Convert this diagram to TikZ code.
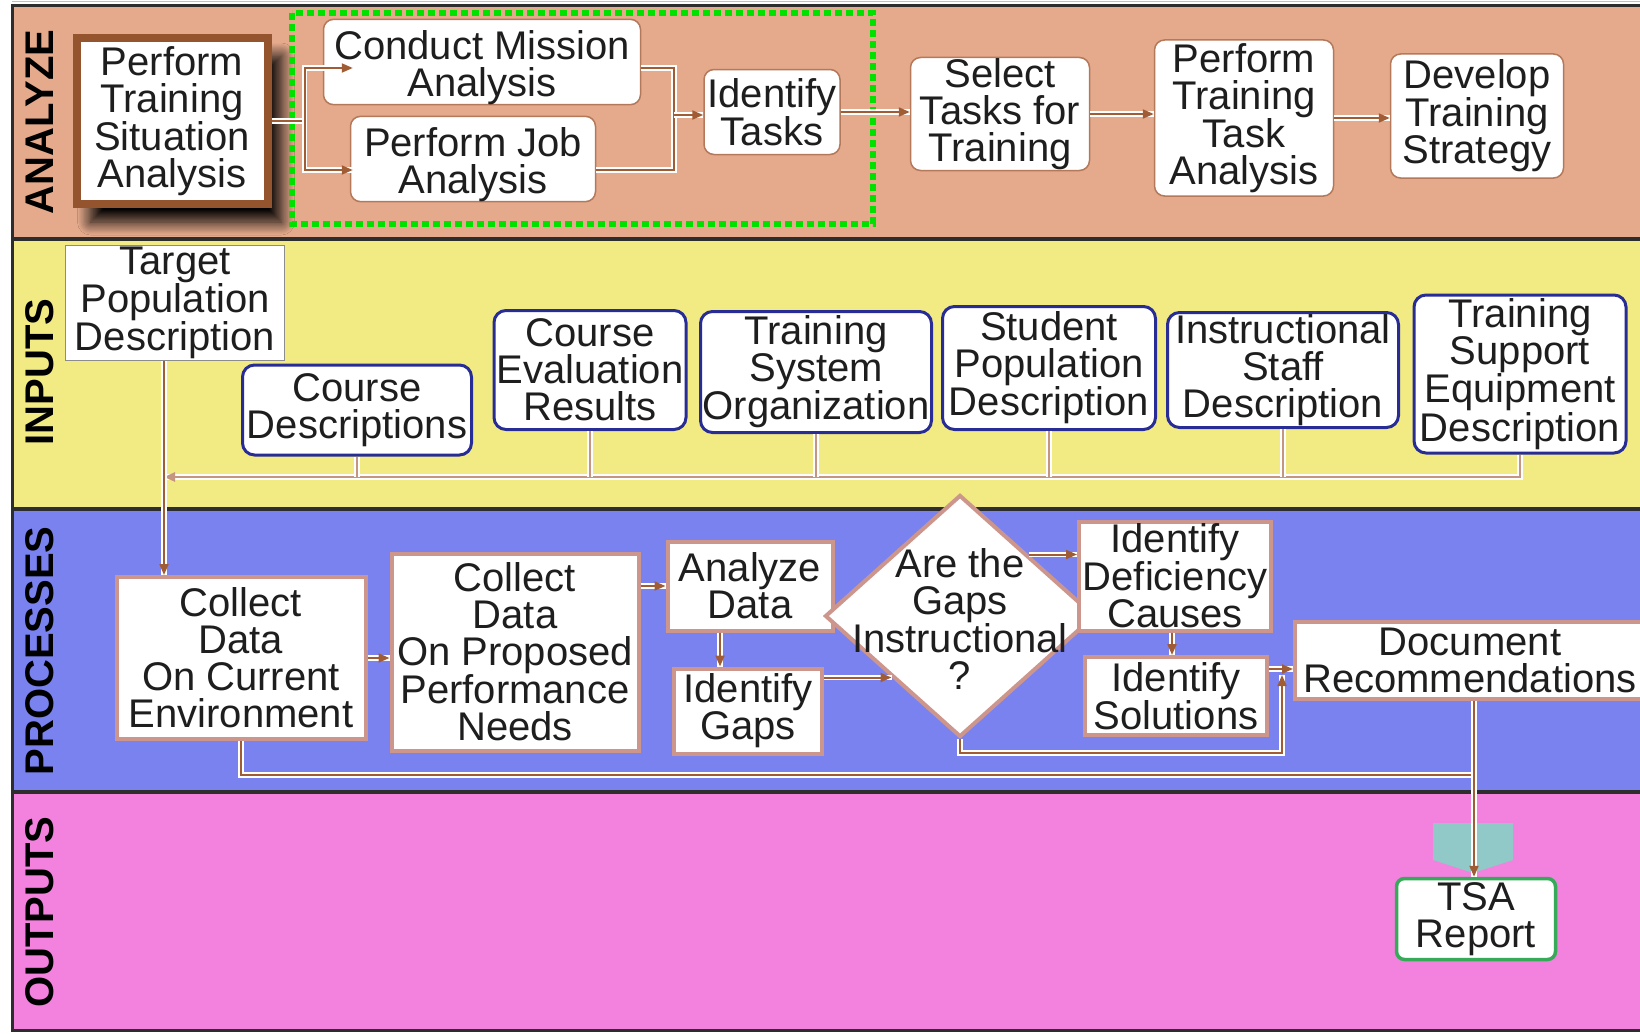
\documentclass[tikz,border=0pt]{standalone}
\usepackage{fontspec}
\setmainfont{Liberation Sans}
\usetikzlibrary{shapes.geometric,arrows.meta,shadows.blur,calc}
\definecolor{laneA}{RGB}{229,170,140}
\definecolor{laneI}{RGB}{242,234,130}
\definecolor{laneP}{RGB}{122,130,240}
\definecolor{laneO}{RGB}{242,130,222}
\definecolor{brn}{RGB}{160,92,52}
\definecolor{busC}{RGB}{196,150,130}
\definecolor{ptsaB}{RGB}{148,84,45}
\definecolor{boxA}{RGB}{180,120,90}
\definecolor{blueB}{RGB}{40,45,150}
\definecolor{procB}{RGB}{205,150,140}
\definecolor{greenB}{RGB}{55,170,90}
\definecolor{dotG}{RGB}{0,225,0}
\definecolor{tealC}{RGB}{145,200,200}
\definecolor{frameC}{RGB}{45,45,45}
\definecolor{txtC}{RGB}{30,30,30}
\newcommand{\lowstrut}{\rule{0pt}{40pt}}
\tikzset{
  every node/.style={font=\fontsize{40}{37}\selectfont, align=center, inner sep=0pt, text=txtC},
  abox/.style={draw=boxA, line width=1.5pt, fill=white, rounded corners=10pt},
  ptsabox/.style={draw=ptsaB, line width=8pt, fill=white,
     blur shadow={shadow xshift=14pt, shadow yshift=-18pt, shadow blur radius=13pt, shadow opacity=100, shadow blur steps=16}},
  tbox/.style={draw=black!45, line width=1.5pt, fill=white},
  ibox/.style={draw=blueB, line width=3pt, fill=white, rounded corners=12pt},
  pbox/.style={draw=procB, line width=4pt, fill=white},
  diabox/.style={shape=diamond, draw=procB, line width=4pt, fill=white},
  obox/.style={draw=greenB, line width=3.5pt, fill=white, rounded corners=8pt},
  conn/.style={draw=brn, line width=2pt, preaction={draw=white, line width=5.5pt, -}},
  arr/.style={conn, -{Triangle[length=11pt,width=9pt]}},
  busconn/.style={draw=busC, line width=2.5pt, preaction={draw=white, line width=6pt, -}},
  busarr/.style={busconn, -{Triangle[length=11pt,width=9pt]}},
  lanelab/.style={font=\fontsize{40}{40}\selectfont\bfseries, rotate=90, text=black},
}
\begin{document}
\begin{tikzpicture}[x=1pt,y=-1pt]
\useasboundingbox (0,0) rectangle (1640,1033);
\clip (0,0) rectangle (1640,1033);
% lanes
\fill[laneA] (12,6) rectangle (1650,239);
\fill[laneI] (12,239) rectangle (1650,509);
\fill[laneP] (12,509) rectangle (1650,792);
\fill[laneO] (12,792) rectangle (1650,1030);
\draw[black!25, line width=1pt] (12,2) -- (1650,2);
\draw[frameC, line width=3pt] (1650,6) -- (12,6) -- (12,1030) -- (1650,1030);
\draw[frameC, line width=4pt] (12,509) -- (1650,509);
\draw[frameC, line width=4pt] (12,792) -- (1650,792);
% lane labels
\node[lanelab] (lA) at (40,122) {ANALYZE};
\node[lanelab] (lI) at (40,372) {INPUTS};
\node[lanelab] (lP) at (40,651) {PROCESSES};
\node[lanelab] (lO) at (40,912) {OUTPUTS};

% ANALYZE
\node[ptsabox, minimum width=191pt, minimum height=166pt] (ptsa) at (172,121) {Perform\\Training\\Situation\\Analysis};
\fill[laneI] (14,241) rectangle (1650,260);
\draw[frameC, line width=4pt] (12,239) -- (1650,239);
\draw[dotG, line width=6pt, dash pattern=on 7pt off 4pt] (292,13) rectangle (873,224);
\node[abox, minimum width=317pt, minimum height=78pt] (cma) at (482,62) {\lowstrut Conduct Mission\\Analysis};
\node[abox, minimum width=245pt, minimum height=84pt] (pja) at (473,159) {\lowstrut Perform Job\\Analysis};
\node[abox, minimum width=136pt, minimum height=85pt] (idt) at (772,112) {Identify\\Tasks};
\node[abox, minimum width=179pt, minimum height=113pt] (stt) at (1000,114) {Select\\Tasks for\\Training};
\node[abox, minimum width=179pt, minimum height=156pt] (ptta) at (1244,118) {Perform\\Training\\Task\\Analysis};
\node[abox, minimum width=173pt, minimum height=124pt] (dts) at (1477,116) {Develop\\Training\\Strategy};

\coordinate (fk) at ([xshift=33pt]ptsa.east);
\draw[conn] (ptsa.east) -- (fk);
\draw[arr] (fk) |- ($(cma.west)+(30,6)$);
\draw[arr] (fk) |- ($(pja.west)+(3,11)$);
\coordinate (mg) at (674,115);
\draw[conn] ($(cma.east)+(0,6)$) -| (mg);
\draw[conn] ($(pja.east)+(0,11)$) -| (mg);
\draw[arr] (mg) -- (mg -| idt.west);
\draw[arr] (idt.east) -- (idt.east -| stt.west);
\draw[arr] (stt.east) -- (stt.east -| ptta.west);
\draw[arr] (ptta.east) -- (ptta.east -| dts.west);

% INPUTS
\node[tbox, minimum width=219pt, minimum height=115pt] (tpd) at (175,303) {Target\\Population\\Description};
\node[ibox, minimum width=229pt, minimum height=90pt] (cd) at (357,410) {Course\\Descriptions};
\node[ibox, minimum width=192pt, minimum height=119pt] (cer) at (590,370) {Course\\Evaluation\\Results};
\node[ibox, minimum width=231pt, minimum height=121pt] (tso) at (816,372) {Training\\System\\Organization};
\node[ibox, minimum width=213pt, minimum height=123pt] (spd) at (1049,368) {Student\\Population\\Description};
\node[ibox, minimum width=231pt, minimum height=115pt] (isd) at (1283,370) {Instructional\\Staff\\Description};
\node[ibox, minimum width=212pt, minimum height=158pt] (tse) at (1520,374) {Training\\Support\\Equipment\\Description};

\coordinate (bus) at (164,477);
\draw[busarr] (tse.south) |- (bus);
\draw[busconn] (cd.south) -- (cd.south |- bus);
\draw[busconn] (cer.south) -- (cer.south |- bus);
\draw[busconn] (tso.south) -- (tso.south |- bus);
\draw[busconn] (spd.south) -- (spd.south |- bus);
\draw[busconn] (isd.south) -- (isd.south |- bus);

% PROCESSES
\node[pbox, minimum width=249pt, minimum height=162pt] (ccur) at (241,658) {Collect\\Data\\On Current\\Environment};
\node[pbox, minimum width=247pt, minimum height=197pt] (cprop) at (515,652) {Collect\\Data\\On Proposed\\Performance\\Needs};
\node[pbox, minimum width=165pt, minimum height=89pt] (anadata) at (750,586) {Analyze\\Data};
\node[pbox, minimum width=148pt, minimum height=85pt] (idgaps) at (748,711) {Identify\\Gaps};
\node[diabox, minimum width=270pt, minimum height=242pt] (gap) at (960,616) {};
\node (gaptxt) at (960,619) {Are the\\Gaps\\Instructional\\?};
\node[pbox, minimum width=192pt, minimum height=109pt] (idc) at (1175,576) {Identify\\Deficiency\\Causes};
\node[pbox, minimum width=182pt, minimum height=78pt] (idsol) at (1176,696) {Identify\\Solutions};
\node[pbox, minimum width=350pt, minimum height=77pt] (docrec) at (1470,660) {Document\\Recommendations};

\draw[arr] ([xshift=-11pt]tpd.south) -- ([xshift=-11pt]tpd.south |- ccur.north);
\draw[arr] (ccur.east) -- (ccur.east -| cprop.west);
\draw[arr] (anadata.west -| cprop.east) -- (anadata.west);
\draw[arr] ([xshift=-30pt]anadata.south) -- ([xshift=-30pt]anadata.south |- idgaps.north);
\draw[arr] (idgaps.east |- gap.south west) -- (gap.south west);
\draw[arr] (gap.north east) -- (gap.north east -| idc.west);
\draw[arr] ([xshift=-3pt]idc.south) -- ([xshift=-3pt]idc.south |- idsol.north);
\draw[arr] ([yshift=27pt]idsol.east) -- ([yshift=27pt]idsol.east -| docrec.west);
\coordinate (nb) at (1282,753);
\coordinate (ne) at (1282,675);
\draw[arr] (gap.south) |- (nb) -- (ne);
\coordinate (mm) at (1474,775);
\draw[conn] (ccur.south) |- (mm);

% OUTPUTS
\fill[tealC] (1433,823) -- (1513,823) -- (1513,860) -- (1473,873) -- (1433,860) -- cycle;
\node[obox, minimum width=159pt, minimum height=81pt] (tsa) at (1476,919) {TSA\\Report};
\draw[arr] ([xshift=4pt]docrec.south) -- ([xshift=4pt]docrec.south |- tsa.north);
\end{tikzpicture}
\end{document}
